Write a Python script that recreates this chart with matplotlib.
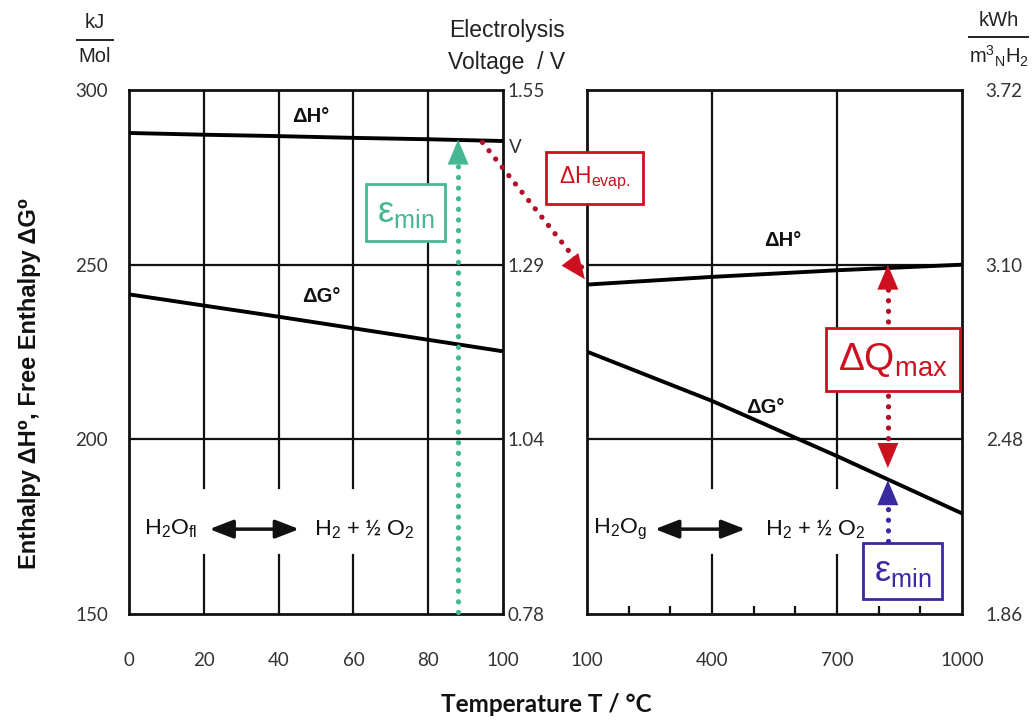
import matplotlib
matplotlib.use('Agg')
import matplotlib.pyplot as plt
from matplotlib.patches import ConnectionPatch
from matplotlib.lines import Line2D

# ---------------- data ----------------
temp_liquid = [0, 20, 40, 60, 80, 100]
dH_liquid = [287.7, 287.2, 286.8, 286.3, 285.9, 285.4]
dG_liquid = [241.5, 238.3, 235.1, 231.8, 228.5, 225.2]

temp_gas = [100, 400, 700, 1000]
dH_gas = [244.3, 246.5, 248.4, 250.0]
dG_gas = [225.1, 211.0, 195.2, 178.8]

left_xticks = [0, 20, 40, 60, 80, 100]
right_xticks = [100, 400, 700, 1000]
right_minor = [200, 300, 500, 600, 800, 900]
enthalpy_ticks = [300, 250, 200, 150]
voltage_labels = ['1.55', '1.29', '1.04', '0.78']
kwh_labels = ['3.72', '3.10', '2.48', '1.86']

# ---------------- style ----------------
plt.rcParams['font.family'] = ['Liberation Sans', 'DejaVu Sans']
plt.rcParams['mathtext.fontset'] = 'custom'
plt.rcParams['mathtext.rm'] = 'Liberation Sans'
plt.rcParams['mathtext.it'] = 'Liberation Sans:italic'
plt.rcParams['mathtext.bf'] = 'Liberation Sans:bold'

TEAL = '#45b893'
RED = '#cc1020'
DOTRED = '#b0102a'
BLUE = '#3a2aa0'
TICKC = '#333333'
TICKFONT = 'Lato'
TS = 13.5

fig = plt.figure(figsize=(10.32, 7.2), dpi=100)
ax1 = fig.add_axes([0.125, 0.1472, 0.3624, 0.7278])
ax2 = fig.add_axes([0.5688, 0.1472, 0.3634, 0.7278])

GAP = (167, 186)
GRID_LW = 1.6

for ax, xlim in ((ax1, (0, 100)), (ax2, (100, 1000))):
    ax.set_xlim(*xlim)
    ax.set_ylim(150, 300)
    for s in ax.spines.values():
        s.set_linewidth(2.0)
        s.set_color('#111111')
    for yv in (200, 250):
        ax.axhline(yv, color='#111111', lw=GRID_LW, zorder=1)

# vertical grid lines (broken around reaction text)
for xv in (20, 40, 60):
    ax1.plot([xv, xv], [150, GAP[0]], color='#111111', lw=GRID_LW, zorder=1)
    ax1.plot([xv, xv], [GAP[1], 300], color='#111111', lw=GRID_LW, zorder=1)
ax1.axvline(80, color='#111111', lw=GRID_LW, zorder=1)
for xv in (400, 700):
    ax2.plot([xv, xv], [150, GAP[0]], color='#111111', lw=GRID_LW, zorder=1)
    ax2.plot([xv, xv], [GAP[1], 300], color='#111111', lw=GRID_LW, zorder=1)

# curves
ax1.plot(temp_liquid, dH_liquid, color='black', lw=2.8, zorder=3)
ax1.plot(temp_liquid, dG_liquid, color='black', lw=2.8, zorder=3)
ax2.plot(temp_gas, dH_gas, color='black', lw=2.8, zorder=3)
ax2.plot(temp_gas, dG_gas, color='black', lw=2.8, zorder=3)

# ticks
ax1.set_xticks(left_xticks)
ax1.set_xticklabels([str(t) for t in left_xticks])
ax1.set_yticks(enthalpy_ticks)
ax1.set_yticklabels([str(t) for t in enthalpy_ticks])
ax1.tick_params(axis='x', length=0, pad=27, labelsize=TS, labelcolor=TICKC)
ax1.tick_params(axis='y', length=0, pad=15, labelsize=TS, labelcolor=TICKC)

ax2.set_xticks(right_xticks)
ax2.set_xticklabels([str(t) for t in right_xticks])
ax2.set_xticks(right_minor, minor=True)
ax2.set_yticks([])
ax2.tick_params(axis='x', which='major', length=0, pad=27, labelsize=TS, labelcolor=TICKC)
ax2.tick_params(axis='x', which='minor', direction='in', length=6, width=1.6, color='#111111')

for lab in ax1.get_xticklabels() + ax1.get_yticklabels() + ax2.get_xticklabels():
    lab.set_fontfamily(TICKFONT)

t1 = ax1.twinx()
t1.set_ylim(150, 300)
t1.set_yticks(enthalpy_ticks)
t1.set_yticklabels(voltage_labels)
t1.tick_params(axis='y', length=0, pad=3, labelsize=TS, labelcolor=TICKC)
t2 = ax2.twinx()
t2.set_ylim(150, 300)
t2.set_yticks(enthalpy_ticks)
t2.set_yticklabels(kwh_labels)
t2.tick_params(axis='y', length=0, pad=17, labelsize=TS, labelcolor=TICKC)
for tt in (t1, t2):
    for s in tt.spines.values():
        s.set_visible(False)
    for lab in tt.get_yticklabels():
        lab.set_fontfamily(TICKFONT)

ax1.text(101.5, 283.5, 'V', fontsize=TS, color=TICKC, ha='left', va='center',
         family=TICKFONT, clip_on=False)

# curve labels
lab_kw = dict(fontsize=14.5, color='#111111', ha='center', va='center', fontweight='bold')
ax1.text(48.5, 292.3, 'ΔH°', **lab_kw)
ax1.text(51.5, 241.0, 'ΔG°', **lab_kw)
ax2.text(570, 257.0, 'ΔH°', **lab_kw)
ax2.text(527, 209.0, 'ΔG°', **lab_kw)

# reaction texts
rk = dict(fontsize=16, color='#111111', ha='center', va='center', family=TICKFONT)
ax1.text(11, 174.3, r'H$_2$O$_{\mathrm{fl}}$', **rk)
ax1.text(63, 174.3, r'H$_2$ + ½ O$_2$', **rk)
ax2.text(180, 174.3, r'H$_2$O$_\mathrm{g}$', **rk)
ax2.text(648, 174.3, r'H$_2$ + ½ O$_2$', **rk)
dbl = dict(arrowstyle='<|-|>,head_length=0.9,head_width=0.35', color='#111111',
           lw=2.5, mutation_scale=16, shrinkA=0, shrinkB=0)
ax1.annotate('', xy=(45.5, 174.3), xytext=(21.5, 174.3), arrowprops=dbl)
ax2.annotate('', xy=(480, 174.3), xytext=(263, 174.3), arrowprops=dbl)

DOTS = (0, (0.01, 2.0))


def dotted(ax, xs, ys, color, z=6):
    ax.plot(xs, ys, color=color, lw=3.8, linestyle=DOTS, dash_capstyle='round',
            zorder=z, clip_on=False)


def head(ax, tail, tip, color, z=7):
    ax.annotate('', xy=tip, xytext=tail, zorder=z,
                arrowprops=dict(arrowstyle='-|>,head_length=1.0,head_width=0.42',
                                color=color, lw=0, mutation_scale=18,
                                shrinkA=0, shrinkB=0))


# green epsilon_min arrow (left)
dotted(ax1, [88, 88], [150.5, 280], TEAL)
head(ax1, (88, 270), (88, 285.8), TEAL)
ax1.text(73.9, 265.0, r'ε$_{\mathrm{min}}$', fontsize=26, color=TEAL, ha='center',
         va='center', zorder=8,
         bbox=dict(boxstyle='square,pad=0.3', fc='white', ec=TEAL, lw=2.0))

# red dH evap arrow across panels
line_cp = ConnectionPatch(xyA=(94.5, 285.0), coordsA=ax1.transData,
                          xyB=(99, 247.5), coordsB=ax2.transData,
                          arrowstyle='-', color=DOTRED, lw=3.8, linestyle=DOTS,
                          capstyle='round', zorder=6)
fig.add_artist(line_cp)
head_cp = ConnectionPatch(xyA=(94.5, 285.0), coordsA=ax1.transData,
                          xyB=(95, 245.8), coordsB=ax2.transData,
                          arrowstyle='-|>,head_length=1.0,head_width=0.42',
                          mutation_scale=18, color=RED, lw=0, zorder=7)
fig.add_artist(head_cp)
fig.text(594.5 / 1032, 1 - 178 / 720, r'ΔH$_{\mathrm{evap.}}$', fontsize=16.5, color=RED,
         ha='center', va='center', zorder=8,
         bbox=dict(boxstyle='square,pad=0.55', fc='white', ec=RED, lw=2.0))

# red dQ max double arrow (right)
dotted(ax2, [822, 822], [246, 196], DOTRED)
head(ax2, (822, 236), (822, 250.0), RED)
head(ax2, (822, 206), (822, 191.8), RED)
ax2.text(834, 222.8, r'ΔQ$_{\mathrm{max}}$', fontsize=28, color=RED, ha='center',
         va='center', zorder=8,
         bbox=dict(boxstyle='square,pad=0.32', fc='white', ec=RED, lw=2.0))

# blue epsilon_min arrow (right)
dotted(ax2, [822, 822], [171, 182], BLUE)
head(ax2, (822, 178), (822, 188.3), BLUE)
ax2.text(857, 162.3, r'ε$_{\mathrm{min}}$', fontsize=26, color=BLUE, ha='center',
         va='center', zorder=8,
         bbox=dict(boxstyle='square,pad=0.3', fc='white', ec=BLUE, lw=2.0))

# header labels
hk = dict(fontsize=14.5, color='#222222', ha='center', va='center')
fig.text(95 / 1032, 1 - 23 / 720, 'kJ', **hk)
fig.add_artist(Line2D([77 / 1032, 113 / 1032], [1 - 40 / 720, 1 - 40 / 720],
                      color='#222222', lw=1.4))
fig.text(95 / 1032, 1 - 56 / 720, 'Mol', **hk)

fig.text(507 / 1032, 1 - 31 / 720, 'Electrolysis', fontsize=16.5, color='#222222',
         ha='center', va='center')
fig.text(507 / 1032, 1 - 62 / 720, 'Voltage  / V', fontsize=16.5, color='#222222',
         ha='center', va='center')

fig.text(999 / 1032, 1 - 21 / 720, 'kWh', **hk)
fig.add_artist(Line2D([969 / 1032, 1028 / 1032], [1 - 37 / 720, 1 - 37 / 720],
                      color='#222222', lw=1.4))
fig.text(999 / 1032, 1 - 56 / 720, r'm$^3{}_\mathrm{N}$H$_2$', **hk)

fig.text(30 / 1032, 1 - 383 / 720, 'Enthalpy ΔH⁰, Free Enthalpy ΔG⁰', fontsize=17,
         fontweight='bold', rotation=90, ha='center', va='center', color='#111111')
fig.text(546 / 1032, 1 - 705 / 720, 'Temperature T / °C', fontsize=17.5,
         fontweight='bold', ha='center', va='center', color='#111111',
         family=TICKFONT)

fig.savefig('out.png', dpi=100, facecolor='white')
